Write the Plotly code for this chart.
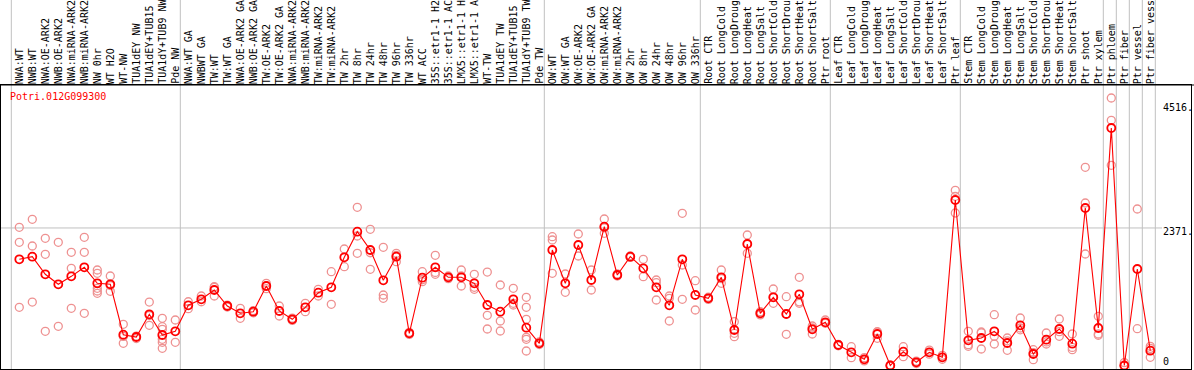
import plotly.graph_objects as go

gene = "Potri.012G099300"

categories = [
    "NWA:WT", "NWB:WT", "NWA:OE-ARK2", "NWB:OE-ARK2", "NWA:miRNA-ARK2", "NWB:miRNA-ARK2",
    "NW 0hr", "WT H2O", "WT-NW", "TUA1dEY NW", "TUA1dEY+TUB15 NW", "TUA1dY+TUB9 NW", "Pde NW",
    "NWA:WT GA", "NWBWT GA", "TW:WT", "TW:WT GA", "NWA:OE-ARK2 GA", "NWB:OE-ARK2 GA",
    "TW:OE-ARK2", "TW:OE-ARK2 GA", "NWA:miRNA-ARK2", "NWB:miRNA-ARK2", "TW:miRNA-ARK2",
    "TW:miRNA-ARK2", "TW 2hr", "TW 8hr", "TW 24hr", "TW 48hr", "TW 96hr", "TW 336hr", "WT ACC",
    "35S::etr1-1 H2O", "35S::etr1-1 ACC", "LMX5::etr1-1 H2O", "LMX5::etr1-1 ACC", "WT-TW",
    "TUA1dEY TW", "TUA1dEY+TUB15 TW", "TUA1dY+TUB9 TW", "Pde TW",
    "OW:WT", "OW:WT GA", "OW:OE-ARK2", "OW:OE-ARK2 GA", "OW:miRNA-ARK2", "OW:miRNA-ARK2",
    "OW 2hr", "OW 8hr", "OW 24hr", "OW 48hr", "OW 96hr", "OW 336hr",
    "Root CTR", "Root LongCold", "Root LongDrought", "Root LongHeat", "Root LongSalt",
    "Root ShortCold", "Root ShortDrought", "Root ShortHeat", "Root ShortSalt", "Ptr root",
    "Leaf CTR", "Leaf LongCold", "Leaf LongDrought", "Leaf LongHeat", "Leaf LongSalt",
    "Leaf ShortCold", "Leaf ShortDrought", "Leaf ShortHeat", "Leaf ShortSalt", "Ptr leaf",
    "Stem CTR", "Stem LongCold", "Stem LongDrought", "Stem LongHeat", "Stem LongSalt",
    "Stem ShortCold", "Stem ShortDrought", "Stem ShortHeat", "Stem ShortSalt", "Ptr shoot",
    "Ptr xylem", "Ptr phloem", "Ptr fiber", "Ptr vessel", "Ptr fiber vessel",
]

means = [
    1832, 1877, 1574, 1402, 1539, 1694, 1419, 1402, 535, 495, 886, 530, 593,
    1041, 1144, 1304, 1029, 903, 931, 1373, 943, 800, 1006, 1257, 1350, 1866, 2307, 1992,
    1471, 1877, 559, 1515, 1694, 1522, 1522, 1419, 1046, 931, 1144, 655, 387,
    1992, 1419, 2078, 1476, 2393, 1562, 1877, 1677, 1350, 1041, 1832, 1218,
    1161, 1522, 616, 2095, 903, 1178, 891, 1230, 628, 748,
    358, 232, 112, 547, 5, 243, 60, 232, 146, 2852,
    439, 478, 593, 392, 697, 203, 449, 633, 380, 2714, 650,
    4090, 5, 1665, 260,
]

replicates = [
    [2382, 2124, 1006], [2520, 2061, 1097], [2193, 1918, 593], [2124, 679],
    [1952, 1677, 989], [2210, 1952, 903], [1648, 1591, 1333, 1287, 1247],
    [1545, 1380, 1281], [714, 505, 387], [510, 505, 470], [1097, 865, 697],
    [817, 673, 628, 456, 404, 301], [788, 404],
    [1102, 982], [1201, 1102], [1361, 1350, 1201], [1045, 1029, 1010], [989, 817],
    [950, 931, 912], [1419, 1373, 1327], [1029, 857], [820, 800, 780], [1075, 931],
    [1316, 1201], [1619, 1058], [2009, 1705], [2726, 2233, 1935], [2348, 1945, 1660],
    [2038, 1218, 1161], [1935, 1900, 1791], [575, 559, 540], [1619, 1480, 1447],
    [1901, 1607, 1574], [1545, 1522, 1500], [1648, 1545, 1373], [1574, 1350, 1316],
    [1613, 869, 633], [1390, 771, 599], [1333, 1075, 1046],
    [1178, 1006, 800, 490, 456, 255], [410, 387, 365],
    [2221, 2164, 1591], [1579, 1264], [2267, 1889], [1648, 1304], [2525, 2375, 2279],
    [1580, 1562, 1545], [1890, 1877, 1865], [1832, 1533], [1476, 1429, 1132],
    [1201, 1161, 771], [2623, 1734, 1144], [1464, 960],
    [1180, 1161, 1142], [1648, 1500, 1419], [759, 559, 501], [2250, 2100, 1935],
    [930, 903, 876], [1321, 1178, 1075], [1189, 891, 542], [1522, 1100, 1075],
    [685, 650, 547], [788, 731],
    [370, 358, 345], [329, 139], [140, 112, 85], [587, 580, 473], [10, 5, 0],
    [329, 157], [80, 60, 40], [270, 232, 200], [180, 146, 112], [3019, 2915, 2628],
    [593, 363, 335], [581, 565, 289], [879, 507, 375], [478, 430, 267], [822, 650, 619],
    [277, 227, 105], [564, 410, 375], [805, 587, 507], [547, 316, 277],
    [3414, 2800, 1923], [851, 547, 525],
    [4606, 4223, 3449], [55, 0, 0], [2697, 638], [335, 300, 146],
]

# last category index of each group (separators drawn after these)
group_ends = [-1, 12, 40, 52, 62, 72, 83, 84, 85, 86, 87]
tick_values = [4516, 2371, 0]
tick_labels = ["4516.", "2371.", "0"]
grid_values = [2371]

FONT = "DejaVu Sans Mono"
W, H = 1194, 370
ML, MR, MT, MB = 1, 3, 85, 1
PW = W - ML - MR
PH = H - MT - MB
X0 = 19.3 - ML  # pixel (in plot area) of category 0
STEP = 13.0
xr = [(0 - X0) / STEP, (PW - X0) / STEP]
yr = [-55, 4830]

x_idx = list(range(len(categories)))
rx, ry = [], []
for i, reps in enumerate(replicates):
    for v in reps:
        rx.append(i)
        ry.append(v)

fig = go.Figure()
fig.add_trace(go.Scatter(
    x=rx, y=ry, mode="markers", hoverinfo="skip",
    marker=dict(symbol="circle-open", size=8, color="rgb(238,145,145)",
                line=dict(width=1.3, color="rgb(238,145,145)")),
))
fig.add_trace(go.Scatter(
    x=x_idx, y=means, mode="lines+markers",
    line=dict(color="#ff0000", width=1.1),
    marker=dict(symbol="circle-open", size=8, color="#ff0000",
                line=dict(width=1.8, color="#ff0000")),
))

shapes = []
top_paper = 1 + MT / PH
bot_paper = -MB / PH
for g in group_ends:
    xv = g + 0.385
    shapes.append(dict(type="line", xref="x", yref="paper", x0=xv, x1=xv,
                       y0=bot_paper, y1=top_paper,
                       line=dict(color="#c0c0c0", width=1), layer="below"))
for gv in grid_values:
    shapes.append(dict(type="line", xref="x", yref="y", x0=xr[0], x1=(1162 - ML - X0) / STEP,
                       y0=gv, y1=gv, line=dict(color="#c0c0c0", width=1), layer="below"))
# top frame line across the whole width
shapes.append(dict(type="line", xref="paper", yref="paper", x0=-ML / PW, x1=1 + MR / PW,
                   y0=1, y1=1, line=dict(color="black", width=1)))

annotations = []
for i, c in enumerate(categories):
    annotations.append(dict(x=i, y=1, xref="x", yref="paper", text=c, showarrow=False,
                            textangle=-90, xanchor="center", yanchor="bottom",
                            borderpad=0, yshift=0,
                            font=dict(family=FONT, size=10, color="black")))
shifts = [-4, -4, 4]
for v, t, s in zip(tick_values, tick_labels, shifts):
    annotations.append(dict(x=(1162 - ML) / PW, y=v, xref="paper", yref="y", text=t,
                            showarrow=False, xanchor="left", yanchor="middle", yshift=s,
                            borderpad=0, font=dict(family=FONT, size=10, color="black")))
annotations.append(dict(x=(9 - ML) / PW, y=1, xref="paper", yref="paper", text=gene,
                        showarrow=False, xanchor="left", yanchor="middle", yshift=-11.7,
                        borderpad=0, font=dict(family=FONT, size=10, color="#ff0000")))

fig.update_layout(
    width=W, height=H, margin=dict(l=ML, r=MR, t=MT, b=MB, pad=0),
    paper_bgcolor="white", plot_bgcolor="white", showlegend=False,
    xaxis=dict(range=xr, showgrid=False, zeroline=False, showticklabels=False,
               ticks="", showline=True, mirror=True, linecolor="black", linewidth=1),
    yaxis=dict(range=yr, showgrid=False, zeroline=False, showticklabels=False,
               ticks="", showline=True, mirror=True, linecolor="black", linewidth=1),
    shapes=shapes, annotations=annotations,
)

fig.write_html("out.html", config={"displayModeBar": False},
               post_script="document.body.style.margin='0';document.body.style.overflow='hidden';")
